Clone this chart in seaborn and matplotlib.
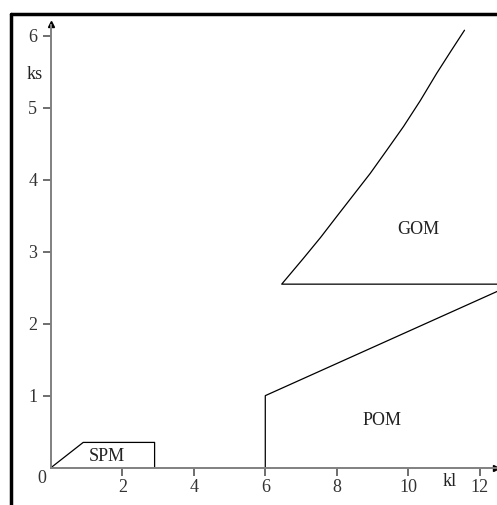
import pandas as pd
import seaborn as sns
import matplotlib.pyplot as plt
from matplotlib.lines import Line2D

# region boundaries (kl, ks)
spm_kl = [0, 0.9, 2.9, 2.9]
spm_ks = [0, 0.35, 0.35, 0]
pom_kl = [6, 6, 12.5]
pom_ks = [0, 1, 2.45]
gom_kl = [12.5, 6.46, 7.07, 7.55, 8.0, 8.47, 8.94, 9.4, 9.87, 10.34, 10.8, 11.2, 11.58]
gom_ks = [2.55, 2.55, 2.91, 3.2, 3.49, 3.79, 4.09, 4.41, 4.74, 5.1, 5.48, 5.79, 6.08]

region_names = ['SPM', 'POM', 'GOM']
label_kl = [1.57, 9.27, 10.28]
label_ks = [0.15, 0.65, 3.31]

xticks = [2, 4, 6, 8, 10, 12]
yticks = [1, 2, 3, 4, 5, 6]

sns.set_style("white")
plt.rcParams['font.family'] = ['Liberation Serif', 'DejaVu Serif']

fig = plt.figure(figsize=(4.97, 5.05), dpi=100)
ax = fig.add_axes([0, 0, 1, 1])

for kl, ks in [(spm_kl, spm_ks), (pom_kl, pom_ks), (gom_kl, gom_ks)]:
    df = pd.DataFrame({'kl': kl, 'ks': ks})
    sns.lineplot(data=df, x='kl', y='ks', sort=False, estimator=None,
                 color='black', linewidth=0.9, ax=ax)

for name, x, y in zip(region_names, label_kl, label_ks):
    ax.text(x, y, name, fontsize=13, ha='center', va='center', color='#222222')

ax.set_xlim(-1.43, 12.49)
ax.set_ylim(-0.52, 6.5)

# axes through the origin
for s in ['top', 'right']:
    ax.spines[s].set_visible(False)
ax.spines['left'].set_position(('data', 0))
ax.spines['bottom'].set_position(('data', 0))
ax.spines['left'].set_bounds(0, 6.15)
ax.spines['bottom'].set_bounds(0, 12.45)
for s in ['left', 'bottom']:
    ax.spines[s].set_color('#808080')
    ax.spines[s].set_linewidth(1.4)
ax.plot([0], [6.17], marker='^', color='black', markersize=5, clip_on=False)
ax.plot([12.45], [0], marker='>', color='black', markersize=5, clip_on=False)

ax.set_xticks(xticks)
ax.set_yticks(yticks)
ax.tick_params(axis='both', direction='out', length=6, width=1.2,
               color='#555555', labelsize=13, labelcolor='#333333',
               bottom=True, left=True)
ax.tick_params(axis='y', pad=4)
ax.tick_params(axis='x', pad=2)
ax.set_xlabel('')
ax.set_ylabel('')

ax.text(-0.25, -0.15, '0', fontsize=13, ha='center', va='center', color='#333333')
ax.text(-0.45, 5.47, 'ks', fontsize=13, ha='center', va='center', color='#222222')
ax.text(11.15, -0.2, 'kl', fontsize=13, ha='center', va='center', color='#222222')

# frame on the left and top
fig.add_artist(Line2D([0.022, 0.022], [0, 0.972], color='black', linewidth=2.5))
fig.add_artist(Line2D([0.022, 1], [0.972, 0.972], color='black', linewidth=2.5))

fig.savefig('out.png', dpi=100)
